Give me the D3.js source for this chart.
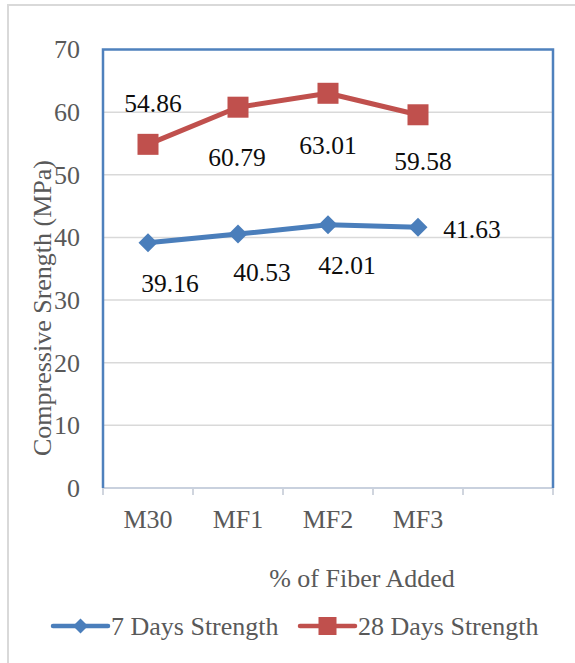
<!DOCTYPE html>
<html><head><meta charset="utf-8">
<script src="https://cdn.jsdelivr.net/npm/d3@7"></script>
<style>body{margin:0;background:#fff}svg{display:block}</style>
</head><body><svg id="c" width="575" height="663"></svg>
<script>
const categories = ["M30","MF1","MF2","MF3",""];
const days7 = [39.16, 40.53, 42.01, 41.63];
const days28 = [54.86, 60.79, 63.01, 59.58];
const yTicks = [0,10,20,30,40,50,60,70];
const seriesNames = ["7 Days Strength","28 Days Strength"];

// label placement offsets (layout only)
const off7 = [[22,40],[24,38],[19,40],[54,2]];
const off28 = [[5,-41],[-1,50],[0,52],[5,46]];

const svg = d3.select("#c");
const font = "'Liberation Serif','Times New Roman',serif";
const L=103, R=553, T=49.5, B=488;
svg.append("rect").attr("x",8).attr("y",5).attr("width",700).attr("height",700)
  .attr("fill","#fff").attr("stroke","#d9d9d9").attr("stroke-width",2);

const x = d3.scaleBand().domain(categories.map((d,i)=>i)).range([L,R]).padding(0);
const y = d3.scaleLinear().domain([0,70]).range([B,T]);
const cx = i => x(i)+x.bandwidth()/2;

// gridlines
svg.append("g").selectAll("line").data(yTicks.filter(t=>t>0&&t<70)).join("line")
  .attr("x1",L).attr("x2",R).attr("y1",d=>y(d)).attr("y2",d=>y(d))
  .attr("stroke","#d9d9d9").attr("stroke-width",1.5);

// y axis labels
const ya = svg.append("g").attr("transform",`translate(${L},0)`)
  .call(d3.axisLeft(y).tickValues(yTicks).tickSize(0).tickPadding(23));
ya.select(".domain").remove();
ya.selectAll("text").attr("font-family",font).attr("font-size",26).attr("fill","#595959");

// x axis
const xa = svg.append("g").attr("transform",`translate(0,${B})`)
  .call(d3.axisBottom(x).tickFormat(i=>categories[i]).tickSize(0).tickPadding(22));
xa.select(".domain").remove();
xa.selectAll("text").attr("font-family",font).attr("font-size",26).attr("fill","#595959");
svg.append("g").selectAll("line").data(d3.range(categories.length+1)).join("line")
  .attr("x1",i=>L+i*x.bandwidth()).attr("x2",i=>L+i*x.bandwidth())
  .attr("y1",B).attr("y2",B+7).attr("stroke","#d0d5de").attr("stroke-width",2);
svg.append("line").attr("x1",L).attr("x2",R).attr("y1",B).attr("y2",B)
  .attr("stroke","#c9d1de").attr("stroke-width",2);

// plot border (left/top/right blue)
svg.append("path").attr("d",`M${L},${B}V${T}H${R}V${B}`)
  .attr("fill","none").attr("stroke","#4f81bd").attr("stroke-width",2.5);

const blue="#4a7ebb", red="#c0504d";
const line = d3.line().x((d,i)=>cx(i)).y(d=>y(d));

function series(vals,color,shape,offs){
  svg.append("path").datum(vals).attr("d",line).attr("fill","none")
    .attr("stroke",color).attr("stroke-width",5).attr("stroke-linejoin","round");
  const g = svg.append("g");
  vals.forEach((v,i)=>{
    if(shape==="diamond"){
      const s=9.5;
      g.append("path").attr("d",`M${cx(i)},${y(v)-s}L${cx(i)+s},${y(v)}L${cx(i)},${y(v)+s}L${cx(i)-s},${y(v)}Z`).attr("fill",color);
    } else {
      const s=10.5;
      g.append("rect").attr("x",cx(i)-s).attr("y",y(v)-s).attr("width",2*s).attr("height",2*s).attr("fill",color);
    }
    svg.append("text").attr("x",cx(i)+offs[i][0]).attr("y",y(v)+offs[i][1]).attr("dy","0.35em")
      .attr("text-anchor","middle").attr("font-family",font).attr("font-size",25.5)
      .attr("fill","#0d0d0d").text(v.toFixed(2));
  });
}
series(days7,blue,"diamond",off7);
series(days28,red,"square",off28);

// axis titles
svg.append("text").attr("transform","translate(42,308) rotate(-90)").attr("dy","0.35em")
  .attr("text-anchor","middle").attr("font-family",font).attr("font-size",26).attr("fill","#595959")
  .text("Compressive Srength (MPa)");
svg.append("text").attr("x",362).attr("y",578).attr("dy","0.35em")
  .attr("text-anchor","middle").attr("font-family",font).attr("font-size",26).attr("fill","#595959")
  .text("% of Fiber Added");

// legend
const leg = [{name:seriesNames[0],color:blue,shape:"diamond",x0:53},{name:seriesNames[1],color:red,shape:"square",x0:300}];
const ly=626;
leg.forEach(d=>{
  svg.append("line").attr("x1",d.x0).attr("x2",d.x0+55).attr("y1",ly).attr("y2",ly)
    .attr("stroke",d.color).attr("stroke-width",4.5).attr("stroke-linecap","round");
  const mx=d.x0+27.5;
  if(d.shape==="diamond"){
    const s=7.5;
    svg.append("path").attr("d",`M${mx},${ly-s}L${mx+s},${ly}L${mx},${ly+s}L${mx-s},${ly}Z`).attr("fill",d.color);
  } else {
    svg.append("rect").attr("x",mx-9).attr("y",ly-9).attr("width",18).attr("height",18).attr("fill",d.color);
  }
  svg.append("text").attr("x",d.x0+58).attr("y",ly).attr("dy","0.35em")
    .attr("font-family",font).attr("font-size",26).attr("fill","#595959").text(d.name);
});
</script></body></html>
